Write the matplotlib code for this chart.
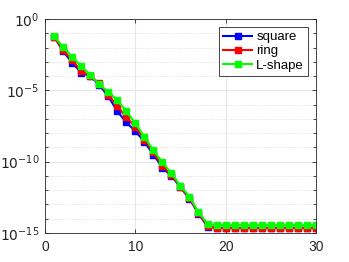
import numpy as np
import matplotlib
matplotlib.use("Agg")
import matplotlib.pyplot as plt
from matplotlib.ticker import FixedLocator, FuncFormatter

# x = 1..30, values as log10
n = np.arange(1, 31)
log_square = [-1.22, -2.25, -3.05, -3.75, -4.0, -4.6, -5.42, -6.45, -7.25, -7.85,
              -8.6, -9.5, -10.42, -11.0, -11.8, -12.6, -13.65, -14.55] + [-14.65] * 12
log_ring = [-1.22, -2.2, -2.88, -3.65, -3.98, -4.5, -5.3, -6.1, -6.88, -7.55,
            -8.45, -9.35, -10.3, -10.95, -11.75, -12.55, -13.6, -14.5] + [-14.67] * 12
log_lshape = [-1.2, -1.95, -2.65, -3.28, -3.92, -4.56, -5.1, -5.68, -6.47, -7.3,
              -8.25, -9.2, -10.05, -10.8, -11.7, -12.45, -13.55, -14.35] + [-14.45] * 12

labels = ['square', 'ring', 'L-shape']
colors = ['#0000ff', '#ff0000', '#00ff00']

plt.rcParams['font.family'] = ['Liberation Sans', 'DejaVu Sans']

fig = plt.figure(figsize=(3.49, 2.62), dpi=100)
ax = fig.add_axes([0.129, 0.111, 0.776, 0.816])

for vals, lab, col in zip([log_square, log_ring, log_lshape], labels, colors):
    ax.semilogy(n, 10.0 ** np.array(vals), '-s', color=col, lw=1.5,
                ms=5, mfc=col, mec=col, label=lab)

ax.set_xlim(0, 30)
ax.set_ylim(1e-15, 1)
ax.set_xticks([0, 10, 20, 30])
ax.yaxis.set_major_locator(FixedLocator([1e-15, 1e-10, 1e-5, 1]))
ax.yaxis.set_minor_locator(FixedLocator([10.0 ** k for k in range(-15, 1) if k % 5 != 0]))
ax.yaxis.set_minor_formatter(FuncFormatter(lambda v, p: ''))
ax.yaxis.set_major_formatter(FuncFormatter(lambda v, p: r'$10^{%d}$' % round(np.log10(v))))

ax.grid(True, which='major', color='#e6e6e6', lw=0.8, ls='-')
ax.grid(True, which='minor', axis='y', color='#d8d8d8', lw=0.6, ls=':')
ax.set_axisbelow(True)

for s in ax.spines.values():
    s.set_color('#262626')
    s.set_linewidth(0.6)
ax.tick_params(which='both', direction='in', top=True, right=True,
               colors='#262626', labelsize=10, length=3, width=0.6)
ax.tick_params(which='minor', length=2)
ax.tick_params(axis='x', pad=5)
ax.tick_params(axis='y', pad=4)

leg = ax.legend(loc='upper right', fontsize=9.5, handlelength=2.2, handletextpad=0.3,
                borderpad=0.3, labelspacing=0.15, fancybox=False, framealpha=1,
                borderaxespad=0.6)
leg.get_frame().set_edgecolor('#262626')
leg.get_frame().set_linewidth(0.6)

fig.savefig('out.png', dpi=100)
